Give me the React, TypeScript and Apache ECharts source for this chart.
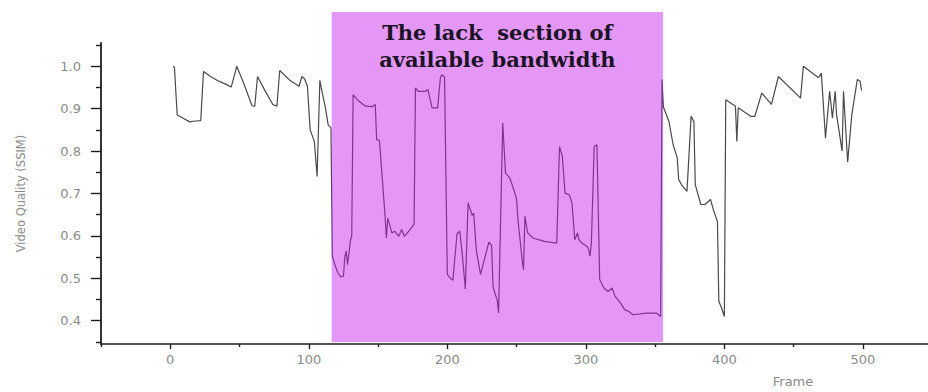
import React, { useEffect, useRef } from "react";
import * as echarts from "echarts";

// Frame index and SSIM value
const frames = [
  2, 3, 5, 9, 14, 18, 22, 24, 29, 35, 40, 44, 48, 53, 59, 61, 63, 68, 74, 77, 79, 86, 93, 95, 97, 99,
  101, 104, 106, 108, 109, 112, 114, 116,
  117, 119, 121, 123, 125, 126, 127, 128, 130, 131, 132, 136, 141, 146, 148, 149, 151, 155, 156, 157,
  160, 162, 165, 167, 169, 172, 174, 176, 177, 179, 184, 186, 189, 193, 195, 196, 198,
  200, 202, 204, 207, 209, 211, 213, 215, 218, 219, 221, 224, 230, 232, 233, 235, 236, 237,
  240, 242, 245, 248, 250, 251, 254, 255, 256, 258, 262, 270, 279, 281, 283, 285, 288, 290, 292, 294,
  295, 297, 301, 302, 303, 304, 306, 308, 310, 313, 316, 319, 321, 325, 328, 331, 334, 344, 351, 354,
  355, 356, 360, 363, 366, 367, 369, 373, 376, 378, 379, 383, 386, 390, 392, 395, 396, 398, 400,
  401, 408, 409, 410, 419, 422, 427, 434, 439, 455, 457, 468, 470, 473, 476, 478, 480, 481, 485, 486,
  489, 492, 496, 498, 499,
];
const ssim = [
  1.0, 0.998, 0.885, 0.878, 0.869, 0.871, 0.872, 0.988, 0.976, 0.965, 0.958, 0.951, 1.0, 0.96, 0.907, 0.906, 0.976, 0.945, 0.91, 0.906, 0.99, 0.968, 0.953, 0.976, 0.97, 0.953,
  0.85, 0.823, 0.74, 0.967, 0.949, 0.902, 0.862, 0.855,
  0.552, 0.53, 0.513, 0.503, 0.505, 0.55, 0.564, 0.532, 0.588, 0.6, 0.933, 0.918, 0.906, 0.905, 0.91, 0.827, 0.825, 0.65, 0.595, 0.642,
  0.607, 0.611, 0.599, 0.615, 0.599, 0.61, 0.619, 0.627, 0.949, 0.941, 0.941, 0.945, 0.902, 0.902, 0.973, 0.98, 0.975,
  0.509, 0.501, 0.495, 0.605, 0.611, 0.55, 0.475, 0.678, 0.648, 0.654, 0.564, 0.509, 0.585, 0.577, 0.481, 0.458, 0.45, 0.418,
  0.866, 0.748, 0.737, 0.709, 0.686, 0.638, 0.544, 0.52, 0.646, 0.607, 0.595, 0.587, 0.583, 0.811, 0.788, 0.701, 0.697, 0.678, 0.591, 0.607,
  0.591, 0.583, 0.575, 0.568, 0.552, 0.583, 0.811, 0.815, 0.497, 0.477, 0.469, 0.477, 0.458, 0.442, 0.426, 0.422, 0.414, 0.418, 0.418, 0.41,
  0.969, 0.904, 0.87, 0.815, 0.784, 0.733, 0.721, 0.705, 0.882, 0.87, 0.721, 0.674, 0.674, 0.686, 0.662, 0.634, 0.446, 0.43, 0.41,
  0.921, 0.906, 0.823, 0.902, 0.882, 0.882, 0.937, 0.91, 0.976, 0.925, 1.0, 0.973, 0.984, 0.831, 0.941, 0.878, 0.941, 0.886, 0.8, 0.941,
  0.774, 0.886, 0.969, 0.965, 0.943,
];

const xMajorTicks = [0, 100, 200, 300, 400, 500];
const xMinorTicks = [-50, 50, 150, 250, 350, 450];
const yMajorTicks = [0.4, 0.5, 0.6, 0.7, 0.8, 0.9, 1.0];
const yMinorTicks = [0.35, 0.45, 0.55, 0.65, 0.75, 0.85, 0.95, 1.05];

const lackStart = 116.5;
const lackEnd = 355.7;
const lackLabel = "The lack  section of\navailable bandwidth";
const yTitle = "Video Quality (SSIM)";
const xTitle = "Frame";

const X_MIN = -50;
const X_MAX = 547;
const Y_MIN = 0.345;
const Y_MAX = 1.055;

export default function App() {
  const ref = useRef<HTMLDivElement>(null);

  useEffect(() => {
    if (!ref.current) return;
    const chart = echarts.init(ref.current, null, { renderer: "svg" });
    const points = frames.map((f, i) => [f, ssim[i]]);
    const gray = "#8a8a8a";
    const axisColor = "#1e1e1e";
    const font = "DejaVu Sans";

    chart.setOption({
      animation: false,
      backgroundColor: "#ffffff",
      grid: [
        { left: 101, right: 0, top: 43, bottom: 48 },
        { left: 101, right: 0, top: 12, bottom: 50 },
      ],
      xAxis: [
        {
          type: "value",
          gridIndex: 0,
          position: "bottom",
          min: X_MIN,
          max: X_MAX,
          axisLine: { onZero: false, lineStyle: { color: axisColor, width: 1.6 } },
          axisTick: { customValues: xMajorTicks, length: 5, lineStyle: { color: axisColor, width: 1.4 } },
          axisLabel: {
            customValues: xMajorTicks,
            color: gray,
            fontSize: 13,
            fontFamily: font,
            margin: 9,
          },
          splitLine: { show: false },
        },
        {
          type: "value",
          gridIndex: 0,
          position: "bottom",
          min: X_MIN,
          max: X_MAX,
          axisLine: { show: false, onZero: false },
          axisTick: { customValues: xMinorTicks, length: 3, lineStyle: { color: axisColor, width: 1.4 } },
          axisLabel: { show: false },
          splitLine: { show: false },
        },
        {
          type: "value",
          gridIndex: 1,
          min: X_MIN,
          max: X_MAX,
          show: false,
        },
      ],
      yAxis: [
        {
          type: "value",
          gridIndex: 0,
          position: "left",
          min: Y_MIN,
          max: Y_MAX,
          axisLine: { show: true, onZero: false, lineStyle: { color: axisColor, width: 1.8 } },
          axisTick: { show: true, customValues: yMajorTicks, length: 10, lineStyle: { color: axisColor, width: 1.4 } },
          axisLabel: {
            customValues: yMajorTicks,
            formatter: (v: number) => v.toFixed(1),
            color: gray,
            fontSize: 13,
            fontFamily: font,
            margin: 20,
          },
          splitLine: { show: false },
          name: yTitle,
          nameLocation: "middle",
          nameGap: 74,
          nameTextStyle: { color: gray, fontSize: 11.5, fontFamily: font },
        },
        {
          type: "value",
          gridIndex: 0,
          position: "left",
          min: Y_MIN,
          max: Y_MAX,
          axisLine: { show: false, onZero: false },
          axisTick: { show: true, customValues: yMinorTicks, length: 5, lineStyle: { color: axisColor, width: 1.4 } },
          axisLabel: { show: false },
          splitLine: { show: false },
        },
        {
          type: "value",
          gridIndex: 1,
          min: 0,
          max: 1,
          show: false,
        },
      ],
      series: [
        {
          type: "line",
          xAxisIndex: 0,
          yAxisIndex: 0,
          data: points,
          showSymbol: false,
          symbol: "none",
          silent: true,
          z: 2,
          lineStyle: { color: "#4a4a4a", width: 1.2 },
        },
        {
          type: "line",
          xAxisIndex: 2,
          yAxisIndex: 2,
          data: [],
          silent: true,
          z: 5,
          markArea: {
            silent: true,
            z: 5,
            itemStyle: { color: "rgba(195,25,235,0.45)" },
            label: {
              show: true,
              position: "insideTop",
              distance: 7,
              formatter: lackLabel,
              color: "#1c1426",
              fontFamily: "DejaVu Serif",
              fontWeight: "bold",
              fontSize: 21,
              lineHeight: 27,
              align: "center",
            },
            data: [[{ xAxis: lackStart, yAxis: 0 }, { xAxis: lackEnd, yAxis: 1 }]],
          },
        },
      ],
      graphic: [
        {
          type: "text",
          x: 793,
          y: 381,
          silent: true,
          style: {
            text: xTitle,
            fill: gray,
            font: `13px "${font}"`,
            align: "center",
            verticalAlign: "middle",
          },
        },
      ],
    });

    return () => {
      chart.dispose();
    };
  }, []);

  return (
    <div
      ref={ref}
      style={{ position: "fixed", left: 0, top: 0, width: 928, height: 392, background: "#fff" }}
    />
  );
}
